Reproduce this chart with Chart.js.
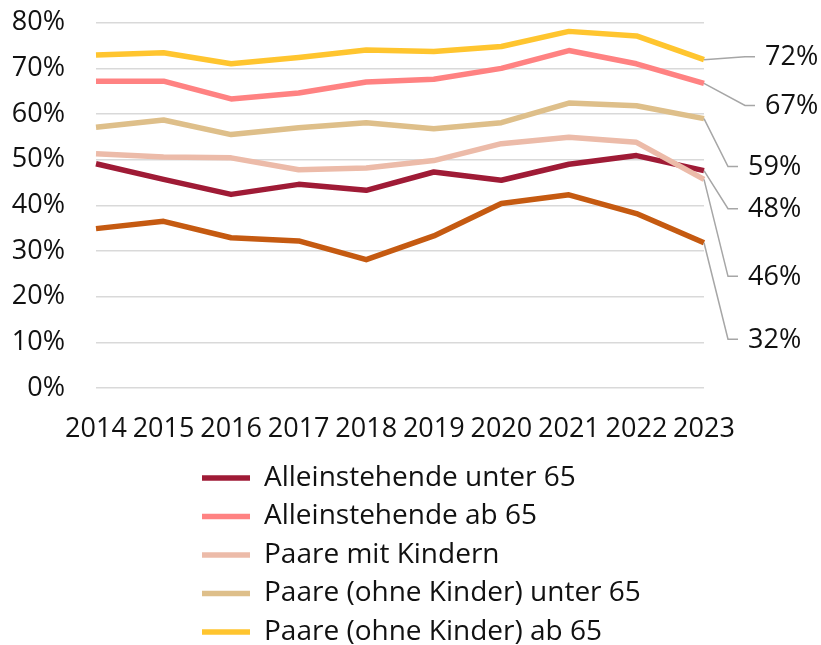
<!DOCTYPE html>
<html>
<head>
<meta charset="utf-8">
<script src="https://cdn.jsdelivr.net/npm/chart.js@4.4.1/dist/chart.umd.min.js"></script>
<style>
  html, body { margin: 0; padding: 0; background: #fff; overflow: hidden; }
  #wrap { width: 821px; height: 700px; }
</style>
</head>
<body>
<div id="wrap"><canvas id="quoteChart" width="821" height="700"></canvas></div>
<script>
const years = ["2014", "2015", "2016", "2017", "2018", "2019", "2020", "2021", "2022", "2023"];

const alleinUnter65 = [49.1, 45.7, 42.4, 44.6, 43.3, 47.3, 45.5, 49.0, 50.9, 47.6];
const alleinAb65 = [67.2, 67.2, 63.3, 64.6, 67.0, 67.6, 70.0, 73.9, 71.0, 66.7];
const paareMitKindern = [51.3, 50.6, 50.4, 47.8, 48.2, 49.8, 53.5, 54.9, 53.8, 45.7];
const paareUnter65 = [57.1, 58.7, 55.5, 57.0, 58.1, 56.8, 58.1, 62.4, 61.8, 59.0];
const paareAb65 = [72.9, 73.4, 71.0, 72.4, 74.0, 73.7, 74.8, 78.1, 77.1, 71.9];
const alleinerziehende = [34.9, 36.5, 32.9, 32.2, 28.1, 33.3, 40.4, 42.3, 38.2, 31.8];

const seriesNames = [
    "Alleinstehende unter 65",
    "Alleinstehende ab 65",
    "Paare mit Kindern",
    "Paare (ohne Kinder) unter 65",
    "Paare (ohne Kinder) ab 65",
    "Alleinerziehende"
];
const seriesData = [alleinUnter65, alleinAb65, paareMitKindern, paareUnter65, paareAb65, alleinerziehende];
const seriesColors = ["#9F1B36", "#FF8282", "#ECBBA9", "#DEBF8A", "#FFC52F", "#C55A11"];

// leader line offsets (px) from the last point to the elbow
const endLabelOffsets = [
    { dx: 24, dy: 38 },
    { dx: 41, dy: 22 },
    { dx: 24, dy: 97 },
    { dx: 24, dy: 48 },
    { dx: 41, dy: -3 },
    { dx: 24, dy: 96.5 }
];

const FONT = "'Open Sans', sans-serif";

const endLabels = {
    id: "endLabels",
    afterDatasetsDraw(chart) {
        const ctx = chart.ctx;
        ctx.save();
        ctx.font = "27px " + FONT;
        ctx.fillStyle = "#111";
        ctx.textAlign = "left";
        ctx.textBaseline = "middle";
        chart.data.datasets.forEach((ds, i) => {
            const meta = chart.getDatasetMeta(i);
            const pt = meta.data[meta.data.length - 1];
            const off = endLabelOffsets[i];
            const ex = pt.x + off.dx;
            const ey = pt.y + off.dy;
            ctx.strokeStyle = "#A6A6A6";
            ctx.lineWidth = 1.5;
            ctx.beginPath();
            ctx.moveTo(pt.x, pt.y);
            ctx.lineTo(ex, ey);
            ctx.lineTo(ex + 10, ey);
            ctx.stroke();
            const v = ds.data[ds.data.length - 1];
            ctx.fillText(Math.round(v) + "%", ex + 20, ey + 1);
        });
        ctx.restore();
    }
};

// legend rows start under the plot, one entry per row
const legendShift = {
    id: "legendShift",
    afterLayout(chart) {
        const lg = chart.legend;
        lg.left = 191.5;
        lg.right = lg.left + 450;
        lg.width = 450;
    }
};

const ctx = document.getElementById("quoteChart").getContext("2d");

new Chart(ctx, {
    type: "line",
    data: {
        labels: years,
        datasets: seriesData.map((d, i) => ({
            label: seriesNames[i],
            data: d,
            borderColor: seriesColors[i],
            backgroundColor: seriesColors[i],
            borderWidth: 5.5,
            pointRadius: 0,
            tension: 0,
            borderJoinStyle: "round",
            fill: false,
            order: seriesData.length - i
        }))
    },
    options: {
        responsive: false,
        animation: false,
        layout: {
            padding: { top: 22.7, left: 0, right: 117, bottom: 5.5 }
        },
        plugins: {
            tooltip: { enabled: false },
            legend: {
                display: true,
                position: "bottom",
                align: "start",
                fullSize: false,
                labels: {
                    font: { family: FONT, size: 28 },
                    color: "#111",
                    boxWidth: 48,
                    boxHeight: 5.5,
                    padding: 10.5,
                    generateLabels(chart) {
                        return chart.data.datasets.map((ds, i) => ({
                            text: ds.label,
                            fillStyle: ds.borderColor,
                            strokeStyle: ds.borderColor,
                            lineWidth: 0,
                            hidden: false,
                            datasetIndex: i,
                            fontColor: "#111"
                        }));
                    }
                }
            }
        },
        scales: {
            x: {
                grid: { display: false },
                border: { display: false },
                ticks: {
                    color: "#111",
                    font: { family: FONT, size: 27 },
                    padding: 17,
                    maxRotation: 0,
                    autoSkip: false
                },
                afterFit(scale) {
                    scale.height = 65.5;
                }
            },
            y: {
                min: 0,
                max: 80,
                border: { display: false },
                grid: {
                    color: "#D9D9D9",
                    lineWidth: 1.5,
                    drawTicks: false
                },
                ticks: {
                    stepSize: 10,
                    color: "#111",
                    font: { family: FONT, size: 27 },
                    padding: 31,
                    callback: (v) => v + "%"
                },
                afterFit(scale) {
                    scale.width = 96;
                    scale.paddingTop = 0;
                    scale.paddingBottom = 0;
                }
            }
        }
    },
    plugins: [endLabels, legendShift]
});
</script>
</body>
</html>
